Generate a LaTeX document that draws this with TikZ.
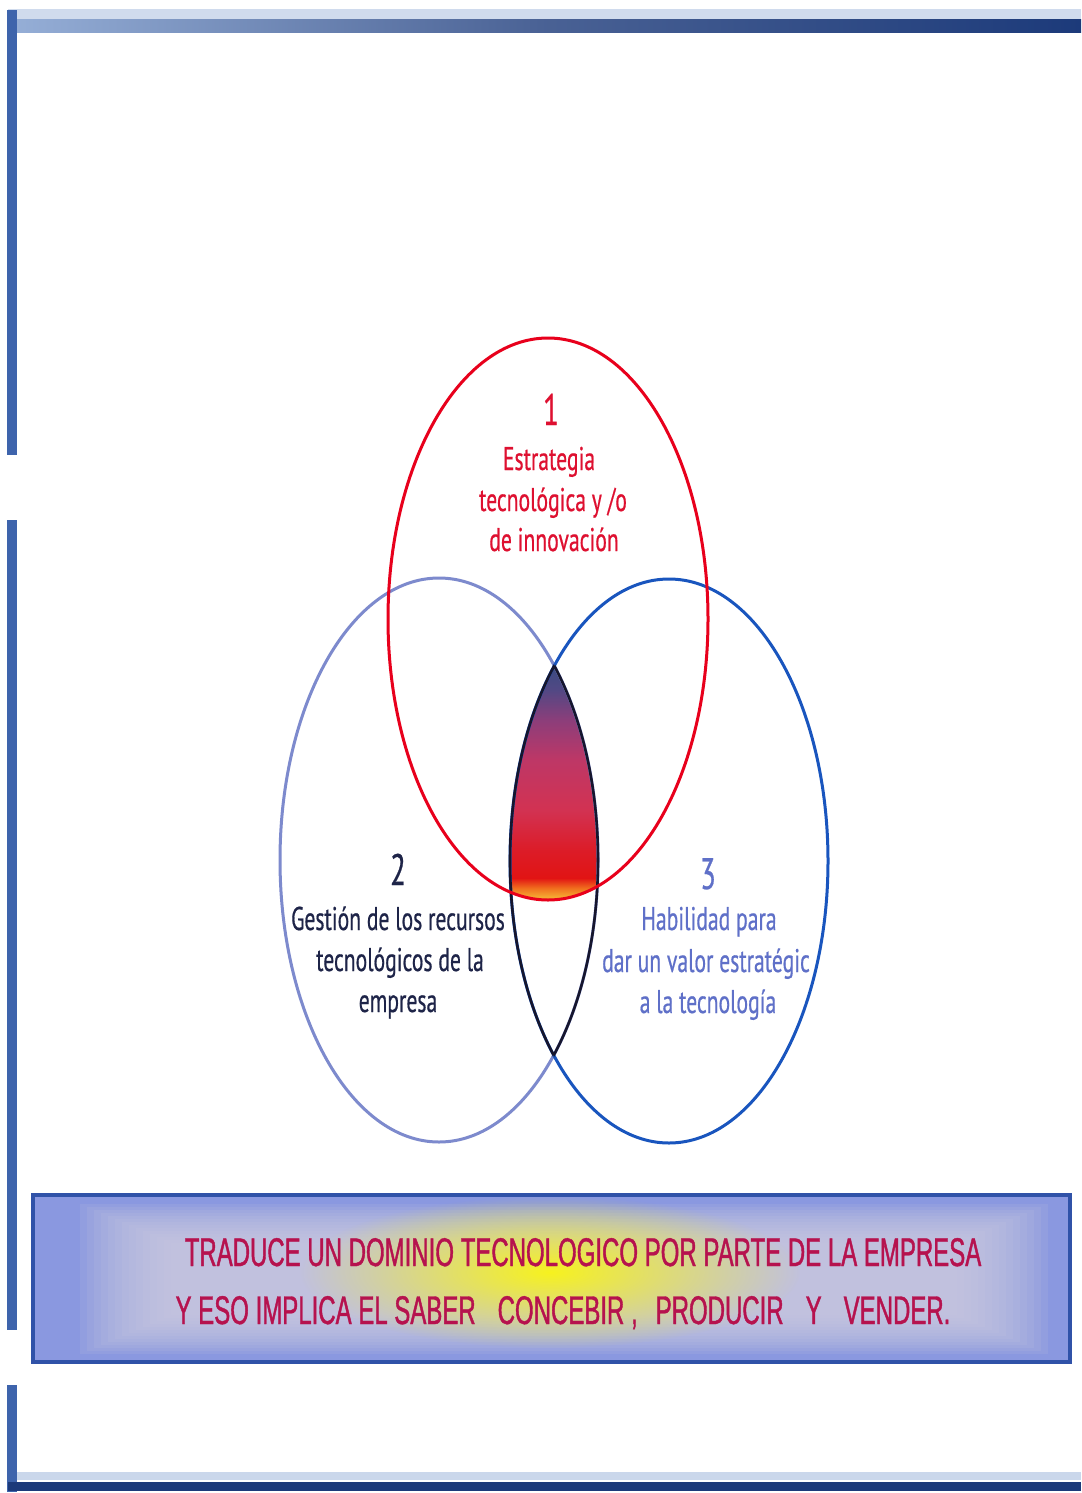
\documentclass[tikz,border=0pt]{standalone}
\usepackage{fontspec}
\setmainfont{Liberation Sans}
\newfontfamily\handfont[FakeStretch=0.66,FakeBold=0.5]{PT Sans}
\newfontfamily\bannerfont[FakeStretch=0.6,FakeBold=1]{Liberation Sans}
\usetikzlibrary{fadings}

% colours
\definecolor{ringred}{RGB}{232,0,28}
\definecolor{ringlilac}{RGB}{125,138,205}
\definecolor{ringblue}{RGB}{25,85,190}
\definecolor{lensedge}{RGB}{22,22,45}
\definecolor{txtred}{RGB}{222,16,48}
\definecolor{txtnavy}{RGB}{30,36,72}
\definecolor{txtblue}{RGB}{95,112,200}
\definecolor{framenavy}{RGB}{28,58,122}
\definecolor{framelight}{RGB}{150,175,215}
\definecolor{frameblue}{RGB}{62,100,172}
\definecolor{bannerfill}{RGB}{138,152,224}
\definecolor{bannerinner}{RGB}{208,206,222}
\definecolor{banneredge}{RGB}{48,82,168}
\definecolor{bannertxt}{RGB}{182,18,78}
\definecolor{glow}{RGB}{250,245,20}

% colours of the central lens, bottom to top
\definecolor{ls0}{RGB}{232,60,60}
\definecolor{ls1}{RGB}{245,170,50}
\definecolor{ls2}{RGB}{240,110,30}
\definecolor{ls3}{RGB}{225,20,20}
\definecolor{ls4}{RGB}{220,28,40}
\definecolor{ls5}{RGB}{210,50,82}
\definecolor{ls6}{RGB}{190,55,102}
\definecolor{ls7}{RGB}{140,62,122}
\definecolor{ls8}{RGB}{82,72,132}
\definecolor{ls9}{RGB}{60,75,130}
\pgfdeclareverticalshading{lensshade}{100bp}{%
  color(0bp)=(ls0); color(25bp)=(ls0); color(26.7bp)=(ls1);
  color(28.6bp)=(ls2); color(30.7bp)=(ls3); color(36.6bp)=(ls4);
  color(45bp)=(ls5); color(55.6bp)=(ls6); color(64bp)=(ls7);
  color(70.4bp)=(ls8); color(75bp)=(ls9); color(100bp)=(ls9)}

% soft radial fade for the glow behind the banner text
\tikzfading[name=softglow, inner color=transparent!0, outer color=transparent!100]

\begin{document}
\begin{tikzpicture}[x=0.5pt,y=-0.5pt,
  circtext/.style={anchor=base, inner sep=0pt,
    font=\handfont\fontsize{16.4}{20}\selectfont},
  digit/.style={anchor=base, inner sep=0pt,
    font=\handfont\fontsize{22}{22}\selectfont},
  bannertext/.style={anchor=base, inner sep=0pt, text=bannertxt,
    font=\bannerfont\fontsize{20}{24}\selectfont},
  ringline/.style={line width=1.5pt},
  lensline/.style={line width=1.3pt, draw=lensedge}]

\useasboundingbox (0,0) rectangle (1081,1493);
\fill[white] (0,0) rectangle (1081,1493);

% ---- page frame ----
\fill[framelight!45] (8,9) rectangle (1081,19);
\shade[left color=framelight, right color=framenavy, middle color=framenavy!80]
  (8,20) rectangle (1081,33);
\fill[frameblue] (7,10) rectangle (17,455);
\fill[frameblue] (7,520) rectangle (17,1330);
\fill[frameblue] (7,1385) rectangle (17,1492);
\fill[framenavy] (8,1482) rectangle (1081,1491);
\fill[framelight!50] (17,1472) rectangle (1081,1480);

% ---- centres of the three sets ----
\coordinate (c1) at (548,619);
\coordinate (c2) at (439,860);
\coordinate (c3) at (669,861);

% ---- shaded common region ----
\begin{scope}
  \clip (c2) ellipse [x radius=79.5pt, y radius=141pt];
  \clip (c3) ellipse [x radius=79.5pt, y radius=141pt];
  \clip (c1) ellipse [x radius=80pt, y radius=140.5pt];
  \shade[shading=lensshade] (505,668) rectangle (603,905);
\end{scope}

% ---- set outlines ----
\draw[ringline, ringlilac] (c2) ellipse [x radius=79.5pt, y radius=141pt];
\draw[ringline, ringblue] (c3) ellipse [x radius=79.5pt, y radius=141pt];
\begin{scope}
  \clip (c3) ellipse [x radius=79.5pt, y radius=141pt];
  \draw[lensline] (c2) ellipse [x radius=79.5pt, y radius=141pt];
\end{scope}
\begin{scope}
  \clip (c2) ellipse [x radius=79.5pt, y radius=141pt];
  \draw[lensline] (c3) ellipse [x radius=79.5pt, y radius=141pt];
\end{scope}
\draw[ringline, ringred] (c1) ellipse [x radius=80pt, y radius=140.5pt];

% ---- set labels ----
\node[digit, text=txtred] (n1) at (551,425) {1};
\node[circtext, text=txtred] (t1a) at (549,470) {Estrategia};
\node[circtext, text=txtred] (t1b) at (553,511) {tecnológica y /o};
\node[circtext, text=txtred] (t1c) at (554,551) {de innovación};

\node[digit, text=txtnavy] (n2) at (398,885) {2};
\node[circtext, text=txtnavy] (t2a) at (398,930) {Gestión de los recursos};
\node[circtext, text=txtnavy] (t2b) at (400,971) {tecnológicos de la};
\node[circtext, text=txtnavy] (t2c) at (398,1012) {empresa};

\node[digit, text=txtblue] (n3) at (708,889) {3};
\node[circtext, text=txtblue] (t3a) at (709,930) {Habilidad para};
\node[circtext, text=txtblue] (t3b) at (706,972) {dar un valor estratégic};
\node[circtext, text=txtblue] (t3c) at (708,1013) {a la tecnología};

% ---- banner ----
\fill[bannerfill] (33,1195) rectangle (1070,1362);
\begin{scope}
  \clip (33,1195) rectangle (1070,1362);
  \foreach \i in {0,...,13}
    \fill[bannerinner, opacity=0.12]
      (80+\i*7,1204+\i*3) rectangle (1048-\i*7,1354-\i*3);
  \fill[glow, opacity=0.95, path fading=softglow]
    (550,1272) ellipse [x radius=125pt, y radius=38pt];
\end{scope}
\draw[banneredge, line width=2pt] (33,1195) rectangle (1070,1362);

\node[bannertext] (b1) at (583,1266)
  {TRADUCE UN DOMINIO TECNOLOGICO POR PARTE DE LA EMPRESA};
\node[bannertext] (b2) at (563,1324)
  {Y ESO IMPLICA EL SABER\hspace{11pt}CONCEBIR ,\hspace{9pt}PRODUCIR\hspace{11pt}Y\hspace{11pt}VENDER.};
\end{tikzpicture}
\end{document}
